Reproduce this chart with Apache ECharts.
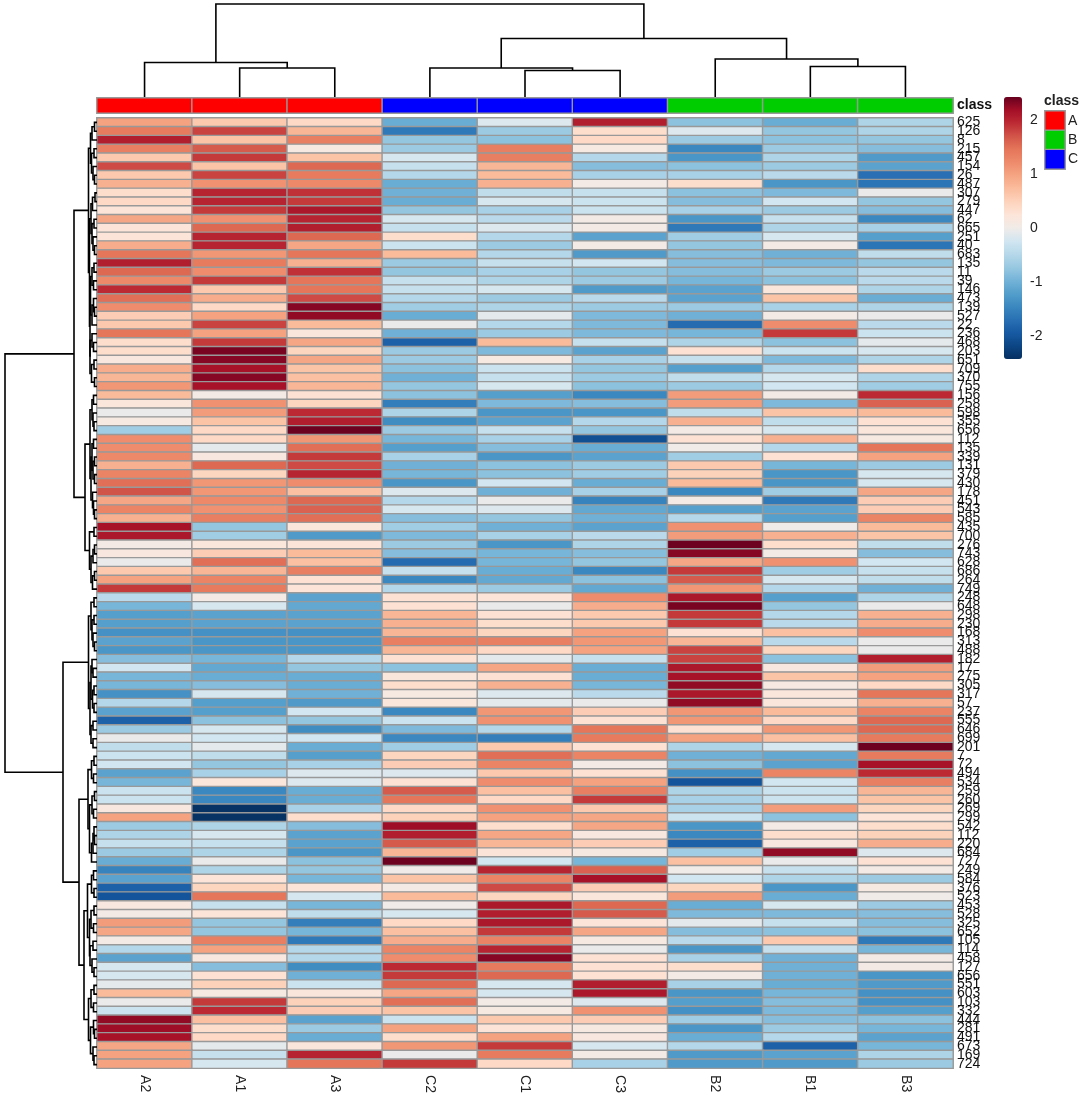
<!DOCTYPE html>
<html lang="en">

<head>
	<meta charset="UTF-8">
	<script src="https://cdn.jsdelivr.net/npm/echarts@6/dist/echarts.min.js"></script>
	<title>Heatmap</title>
	<style>
		html, body { margin: 0; padding: 0; background: #fff; }
	</style>
</head>

<body>
	<div id="main" style="width: 1084px;height:1096px;"></div>

	<script>
		var colLabels = ['A2', 'A1', 'A3', 'C2', 'C1', 'C3', 'B2', 'B1', 'B3'];
		var colClass = [0, 0, 0, 2, 2, 2, 1, 1, 1];
		var classNames = ['A', 'B', 'C'];
		var classColors = ['#ff0000', '#00cd00', '#0000ff'];
		var scaleTicks = [-2, -1, 0, 1, 2];

		var rowLabels = ['625', '126', '8', '215', '457', '154', '26', '487', '307', '279', '447', '62', '665', '251', '40', '683', '135', '11', '39', '146', '473', '139', '527', '22', '236', '468', '203', '651', '709', '370', '755', '156', '258', '598', '355', '656', '112', '135', '339', '131', '379', '430', '178', '451', '543', '585', '435', '700', '276', '743', '628', '686', '264', '749', '248', '648', '298', '230', '168', '313', '488', '182', '17', '275', '305', '317', '57', '237', '555', '646', '699', '201', '7', '72', '494', '534', '259', '260', '269', '299', '542', '112', '220', '684', '727', '249', '584', '376', '523', '453', '528', '325', '652', '105', '114', '458', '127', '656', '551', '603', '103', '332', '444', '281', '491', '673', '169', '724'];

		// one line per row, same column order as colLabels
		var rowValues = [
			[1.0, 0.6, 0.4, -1.05, -0.15, 2.05, -0.8, -1.05, -0.55],
			[1.4, 1.8, 0.8, -1.6, -0.7, 0.35, -0.15, -0.75, -0.55],
			[2.05, 0.65, 1.35, -0.75, -0.8, 0.4, -0.7, -0.8, -0.75],
			[1.35, 1.65, 0.1, -0.7, 1.35, 0.1, -1.45, -0.7, -0.85],
			[0.6, 1.85, 0.65, -0.2, 1.35, -0.5, -1.3, -0.55, -1.25],
			[1.75, 0.65, 1.55, -0.35, 0.8, -0.85, -0.8, -0.7, -1.15],
			[0.6, 1.8, 1.4, -0.5, 0.75, -0.6, -0.6, -0.45, -1.7],
			[0.85, 1.15, 1.25, -1.05, 0.85, 0.05, 0.35, -1.3, -1.65],
			[0.35, 2.0, 1.9, -1.0, -0.4, -0.35, -0.8, -0.9, -0.05],
			[0.4, 2.0, 1.85, -1.05, -0.2, -0.3, -0.85, -0.25, -0.75],
			[0.25, 1.85, 2.1, -0.75, -0.6, -0.3, -0.6, -0.7, -0.85],
			[0.95, 1.15, 2.0, -0.2, -0.45, 0.05, -1.3, -0.35, -1.45],
			[0.25, 1.55, 2.05, -0.35, -0.15, 0.05, -1.6, -0.55, -0.6],
			[0.25, 2.0, 1.55, 0.35, -0.5, -1.15, -0.65, -0.2, -1.2],
			[0.9, 2.0, 0.95, -0.3, -0.7, 0.05, -0.75, 0.05, -1.65],
			[1.45, 1.1, 1.45, 0.75, -0.5, -1.25, -0.85, -1.0, -0.4],
			[2.05, 1.4, 0.85, -0.7, -0.35, -0.25, -0.85, -0.9, -0.75],
			[1.55, 1.2, 1.9, -0.75, -0.6, -0.75, -0.85, -0.7, -0.45],
			[1.25, 1.85, 1.45, -0.35, -0.55, -0.7, -0.95, -0.8, -0.45],
			[1.95, 0.6, 1.45, -0.35, -0.2, -1.25, -1.15, 0.2, -0.55],
			[1.5, 0.9, 1.75, -0.5, -0.7, -0.45, -1.15, 0.65, -1.05],
			[1.2, 0.4, 2.3, -0.65, -0.55, -0.7, -0.7, -0.6, -0.55],
			[0.55, 1.0, 2.25, -1.05, -0.1, -0.9, -1.0, 0.05, -0.05],
			[0.6, 1.8, 0.75, -0.05, -0.5, -0.9, -1.75, 1.2, -0.45],
			[1.45, 1.0, 0.2, -1.0, -0.7, -0.9, -0.95, 1.85, -0.3],
			[0.35, 1.85, 0.95, -1.85, 0.75, -0.35, -0.55, -0.8, -0.1],
			[0.35, 2.35, 0.45, -0.7, -0.9, -1.15, 0.3, -0.3, -0.2],
			[0.15, 2.3, 0.95, -0.7, 0.1, -0.6, -0.35, -0.9, -0.55],
			[0.9, 2.15, 0.65, -0.8, -0.3, -0.75, -1.2, -0.5, 0.35],
			[0.8, 2.3, 0.7, -1.0, -0.35, -0.7, -0.4, -0.2, -0.55],
			[1.1, 2.15, 0.8, -0.75, -0.2, -0.8, -0.7, -0.25, -0.65],
			[0.75, 0.05, 0.3, -0.8, -1.2, -1.45, 1.05, 0.05, 1.95],
			[0.2, 1.15, 0.45, -1.55, -0.9, -0.85, 1.05, -0.9, 1.6],
			[-0.05, 1.05, 1.95, -0.55, -1.3, -1.3, -0.4, 0.65, 0.75],
			[0.1, 0.65, 2.05, -1.4, -1.15, -0.5, 0.85, -0.4, 0.3],
			[-0.65, 0.4, 2.4, -0.7, -0.35, -0.75, 0.05, -0.2, 0.2],
			[1.2, 0.4, 1.1, -0.95, -0.6, -2.05, 0.3, 0.85, 0.1],
			[1.2, -0.1, 1.5, -1.2, -0.85, -1.05, 0.0, -0.5, 1.45],
			[1.25, 0.15, 1.85, -0.6, -1.3, -1.15, -0.65, 0.3, 1.0],
			[0.85, 1.55, 1.75, -1.0, -0.8, -0.7, 0.6, -0.95, -0.7],
			[1.3, 0.45, 2.0, -0.95, -0.8, -0.65, 0.5, -1.3, -0.2],
			[1.5, 1.1, 1.2, -1.3, -0.25, -1.05, 0.75, -1.3, -0.2],
			[1.7, 1.1, 0.7, -0.15, -1.0, -0.6, -1.45, -0.65, 0.95],
			[0.95, 1.25, 1.55, -0.5, -0.05, -1.5, 0.05, -1.6, 0.55],
			[1.3, 1.15, 1.6, -0.2, -0.15, -1.1, -1.2, -1.15, 0.55],
			[0.85, 1.35, 1.5, -0.85, -0.75, -1.0, -0.5, -1.2, 1.3],
			[2.15, -0.75, 0.2, -0.65, -1.0, -1.15, 1.15, 0.0, 0.75],
			[2.1, -0.65, -1.25, -0.9, -0.6, -0.45, 1.05, 0.85, 0.65],
			[0.05, 0.2, 0.25, -0.7, -1.3, -0.55, 2.4, 0.35, -0.4],
			[0.15, 0.55, 0.75, -0.85, -0.95, -0.85, 2.3, 0.05, -0.85],
			[-0.05, 1.5, 0.7, -1.75, -0.95, -0.75, 0.95, 1.15, -0.25],
			[0.6, 0.8, 1.35, -0.35, -1.05, -1.45, 1.85, -0.65, -0.35],
			[1.0, 1.3, 0.3, -1.45, -1.1, -0.8, 1.65, -0.2, -0.4],
			[1.85, 1.4, 0.25, -0.5, -0.7, -1.1, 1.1, -0.5, -1.0],
			[-0.45, 0.05, -1.15, 0.3, 0.25, 1.2, 2.1, -1.2, -0.55],
			[-0.95, -0.2, -1.1, 0.3, -0.05, 0.9, 2.35, -0.75, -0.05],
			[-1.2, -1.15, -1.15, 0.8, 0.3, 0.6, 1.85, -0.5, 0.85],
			[-1.2, -1.15, -1.15, 0.85, 0.35, 0.6, 1.85, -0.45, 0.9],
			[-1.35, -1.35, -1.35, 0.8, 0.45, 1.0, 0.3, 0.7, 1.2],
			[-1.15, -1.3, -1.3, 1.35, 1.35, 1.1, 0.8, -0.45, -0.05],
			[-1.3, -1.3, -1.3, 0.8, 0.4, 1.0, 1.8, 0.45, -0.05],
			[-0.85, -0.95, -0.5, 0.3, -0.1, -0.35, 1.8, -0.8, 2.05],
			[-0.25, -1.1, -0.75, -0.8, 0.95, -1.05, 2.1, 0.15, 1.05],
			[-0.95, -1.05, -1.05, 0.2, 0.3, -1.05, 2.15, 0.65, 1.0],
			[-0.95, -0.85, -1.05, 0.35, 0.85, -0.95, 2.25, 0.1, 0.4],
			[-1.35, -0.2, -1.0, 0.1, -0.15, -0.45, 2.1, 0.2, 1.45],
			[-0.5, -1.2, -1.25, 0.2, -0.1, -0.05, 2.25, 0.2, 0.85],
			[-1.15, -1.2, -0.25, -1.45, 1.1, 0.55, 1.1, 0.75, 1.3],
			[-1.85, -0.8, -0.75, -0.3, 1.15, 0.3, 1.1, 0.4, 1.55],
			[-0.7, -0.2, -1.4, -0.9, -0.5, 1.45, 0.3, 1.1, 1.55],
			[-0.05, -0.25, -0.25, -1.45, -1.55, 1.4, 1.0, 0.7, 1.4],
			[-0.4, -0.1, -1.05, -0.65, 0.6, 0.3, -0.55, -0.2, 2.4],
			[-0.3, -0.4, -1.2, 0.45, 1.5, 1.3, -1.0, -1.1, 1.4],
			[-0.25, -0.75, -0.6, 0.55, 1.3, 0.05, -0.8, -1.15, 2.15],
			[-1.15, -0.6, -0.15, -0.15, 0.6, 0.3, -1.35, 1.3, 1.95],
			[-0.95, 0.2, -0.15, 0.3, 1.2, 1.0, -2.0, -0.25, 1.35],
			[-0.3, -1.45, -1.05, 1.65, 0.7, 1.35, -0.55, -0.3, 0.8],
			[-0.3, -1.45, -1.05, 1.45, 0.4, 1.85, -0.6, -0.3, 0.65],
			[0.15, -2.4, -0.6, 0.4, 1.15, 0.6, -0.6, 1.05, 0.45],
			[1.0, -2.4, 0.35, 0.5, 1.0, 0.95, -0.3, -0.8, 0.25],
			[-0.7, -0.55, -0.85, 2.2, 0.35, 0.95, -1.3, 0.05, 0.35],
			[-0.55, -0.2, -1.15, 2.05, 0.95, 0.15, -1.45, 0.35, 0.5],
			[-0.35, -0.35, -1.15, 1.65, 0.8, 0.55, -1.85, 0.15, 0.9],
			[-0.7, -0.55, -1.3, 0.8, 0.25, 0.1, -0.65, 2.25, -0.15],
			[-1.05, -0.05, -0.8, 2.4, -0.25, -0.95, 0.7, -0.05, 0.3],
			[-1.5, -0.55, -0.75, 0.0, 2.0, 1.6, 0.0, -0.35, 0.05],
			[-1.15, 0.25, -0.95, 0.65, 1.3, 2.15, -0.25, -0.55, -0.7],
			[-1.85, 0.45, 0.25, 0.05, 1.75, 0.55, 0.45, -1.3, 0.1],
			[-2.0, 1.45, -0.2, 0.75, 0.45, 0.2, 1.05, -1.05, 0.0],
			[0.15, -0.35, -0.95, 0.0, 2.1, 1.55, -1.05, -0.2, -0.7],
			[0.05, 0.25, -0.4, -0.2, 2.05, 1.65, -0.9, -0.9, -0.85],
			[1.05, -0.75, -1.55, 0.4, 2.1, 0.25, -0.1, -0.35, -0.85],
			[0.95, -0.75, -0.95, 0.7, 1.85, 0.95, -0.85, -0.8, -0.8],
			[0.05, 1.35, -1.6, 0.9, 1.3, 0.1, -0.45, 0.6, -1.6],
			[-0.5, 1.0, -0.5, 1.3, 2.0, -0.05, -1.3, -0.35, -0.95],
			[-1.15, 0.15, -0.5, 1.2, 2.3, 0.3, -0.6, -1.0, 0.05],
			[-0.2, -0.85, -1.4, 1.95, 1.4, 0.3, 0.35, -1.0, 0.05],
			[-0.2, 0.3, -1.0, 1.85, 1.55, 0.3, 0.05, -1.0, -1.3],
			[-0.1, 0.5, -0.3, 1.55, -0.2, 2.05, -0.6, -1.05, -1.25],
			[0.75, 0.1, 0.2, 0.95, -0.2, 2.1, -1.3, -0.95, -1.35],
			[-0.05, 1.85, 0.5, 1.5, 0.05, -0.15, -1.2, -0.85, -1.35],
			[-0.3, 1.95, 0.55, 0.65, 0.1, 1.15, -1.35, -0.9, -1.2],
			[2.25, 0.7, -1.15, -0.3, 0.6, 0.55, -0.65, -0.85, -0.8],
			[2.2, 0.35, -0.7, 1.0, 0.25, 0.1, -1.3, -0.7, -0.95],
			[2.15, 0.4, -1.05, 0.35, 1.0, 0.15, -1.05, -0.5, -1.15],
			[0.95, -0.1, 0.2, 1.1, 1.85, -0.2, -0.5, -1.85, -0.95],
			[1.0, -0.35, 2.0, -0.05, 1.4, 0.05, -1.25, -1.15, -0.55],
			[1.0, -0.2, 1.45, 1.85, 0.4, -0.6, -1.25, -1.25, -0.7]
		];

		// colours of the scale bar, evenly spaced from its bottom to its top
		var scaleColors = ['#053061', '#0c4584', '#175aa3', '#2870b3', '#3b88c0', '#539ecb', '#74b3d8', '#98c8e1', '#b6d8ea', '#d2e6f1', '#f0ebe8', '#fde5d9', '#fdd3bc', '#fbbd9e', '#f5a583', '#ee8b6c', '#e5765a', '#d25549', '#bd2b34', '#a40f27', '#67001f'];

		// dendrograms: [height, left, right], a 0 is the next leaf in display order
		var rowTreeTop = [8.5,
			[6.5, [5, [2.5, 0, 0], 0], [5.5, [3, 0, 0], [4, 0, [2.5, 0, 0]]]],
			[7.5,
				[6, [4.5, [2, 0, 0], 0], [5, [3, 0, 0], [4, 0, [2.5, 0, 0]]]],
				[7,
					[6.5, [5, [3, 0, 0], [3.5, 0, 0]], [5, [3.5, 0, [2.5, 0, 0]], 0]],
					[7, [5, 0, [3.5, 0, 0]], [5.5, [3, 0, 0], [2.5, 0, 0]]]
				]
			]
		];
		var rowTreeMid = [12,
			[7,
				[5, [3.5, 0, 0], [4, 0, [3, 0, 0]]],
				[6,
					[5, [3.5, 0, 0], [4, [2.5, 0, 0], [2.5, 0, 0]]],
					[4.5, 0, [3.5, 0, [2.5, 0, 0]]]
				]
			],
			[7.5, [3, 0, 0], [6, [4, [2.5, 0, 0], 0], [4.5, [2.5, 0, 0], 0]]]
		];
		var rowTreeLow1 = [8.5,
			[6, [3, 0, 0], [5, [3, 0, 0], [4, 0, [2.5, 0, 0]]]],
			[7,
				[6, [5, 0, [4, 0, 0]], [4.5, [3, 0, 0], [3, 0, 0]]],
				[6, [4, 0, 0], [4, 0, 0]]
			]
		];
		var rowTreeLow2 = [18,
			[9,
				[5.5, [3, 0, 0], [3.5, 0, 0]],
				[7.5, [5, [2.5, 0, 0], [3.5, 0, 0]], [5.5, [4, [3, 0, [2.5, 0, 0]], 0], 0]]
			],
			[13,
				[9.5,
					[5.5, [3.5, 0, 0], [3, 0, 0]],
					[7.5, [6, [3, 0, 0], [3.5, 0, 0]], [7, [4, 0, 0], [5, 0, [3, 0, 0]]]]
				],
				[8.5,
					[6, [3, 0, 0], [3.5, 0, 0]],
					[6.5, [3.5, 0, [2.5, 0, 0]], [4, 0, [3, 0, 0]]]
				]
			]
		];
		var rowTree = [92, [23, rowTreeTop, rowTreeMid], [34, rowTreeLow1, rowTreeLow2]];
		var colTree = [93,
			[34.5, 0, [29, 0, 0]],
			[58.5,
				[29, 0, [26.5, 0, 0]],
				[38, 0, [30.5, 0, 0]]
			]
		];

		var chart = echarts.init(document.getElementById('main'));

		// flatten a tree into [posLeft, posRight, heightLeft, heightRight, height] merges
		function treeMerges(tree) {
			var merges = [];
			var leaf = 0;
			function walk(node) {
				if (node === 0) {
					leaf++;
					return { pos: leaf - 0.5, h: 0 };
				}
				var l = walk(node[1]);
				var r = walk(node[2]);
				merges.push([l.pos, r.pos, l.h, r.h, node[0]]);
				return { pos: (l.pos + r.pos) / 2, h: node[0] };
			}
			walk(tree);
			return merges;
		}

		var heatData = [];
		rowValues.forEach(function (row, r) {
			row.forEach(function (v, c) {
				heatData.push([c, r, v]);
			});
		});

		var fontFamily = 'Liberation Sans';
		var cellBorder = { borderColor: '#999999', borderWidth: 1.4 };
		var heatLeft = 97, heatWidth = 856, heatTop = 118, heatHeight = 951;

		function hiddenValue(gridIndex, max, inverse) {
			return { type: 'value', show: false, gridIndex: gridIndex, min: 0, max: max, inverse: !!inverse };
		}

		function renderLink(horizontal) {
			return function (params, api) {
				var pts = horizontal
					? [[api.value(2), api.value(0)], [api.value(4), api.value(0)], [api.value(4), api.value(1)], [api.value(3), api.value(1)]]
					: [[api.value(0), api.value(2)], [api.value(0), api.value(4)], [api.value(1), api.value(4)], [api.value(1), api.value(3)]];
				return {
					type: 'polyline',
					shape: { points: pts.map(function (p) { return api.coord(p); }) },
					style: { stroke: '#000', lineWidth: 1.6, fill: null }
				};
			};
		}

		var option = {
			animation: false,
			backgroundColor: '#fff',
			textStyle: { fontFamily: fontFamily },
			title: {
				text: 'class', left: 1044, top: 94, padding: 0,
				textStyle: { fontSize: 14, fontWeight: 'bold', color: '#222', fontFamily: fontFamily }
			},
			grid: [
				{ left: heatLeft, top: heatTop, width: heatWidth, height: heatHeight },
				{ left: heatLeft, top: 98, width: heatWidth, height: 15 },
				{ left: 5, top: heatTop, width: 92, height: heatHeight },
				{ left: heatLeft, top: 0, width: heatWidth, height: 97 },
				{ left: 1004, top: 97, width: 18, height: 262 },
				{ left: 1045, top: 111, width: 20, height: 58 }
			],
			xAxis: [
				{
					type: 'category', gridIndex: 0, data: colLabels, position: 'bottom',
					axisLine: { show: false }, axisTick: { show: false }, splitLine: { show: false },
					axisLabel: { rotate: -90, margin: 7, fontSize: 14, color: '#222', interval: 0 }
				},
				{ type: 'category', gridIndex: 1, data: colLabels, show: false },
				hiddenValue(2, 92, true),
				hiddenValue(3, colLabels.length),
				{ type: 'category', gridIndex: 4, show: false },
				{ type: 'category', gridIndex: 5, data: ['class'], show: false }
			],
			yAxis: [
				{
					type: 'category', gridIndex: 0, data: rowLabels, inverse: true, position: 'right',
					axisLine: { show: false }, axisTick: { show: false }, splitLine: { show: false },
					axisLabel: { interval: 0, margin: 4, fontSize: 14, color: '#111' }
				},
				{
					type: 'category', gridIndex: 1, data: ['class'], position: 'right',
					axisLine: { show: false }, axisTick: { show: false },
					axisLabel: { margin: 4, fontSize: 14, fontWeight: 'bold', color: '#111' }
				},
				hiddenValue(2, rowLabels.length, true),
				hiddenValue(3, 97),
				{
					type: 'value', gridIndex: 4, min: -2.42, max: 2.42, position: 'right',
					axisLine: { show: false }, axisTick: { show: false }, splitLine: { show: false },
					axisLabel: { customValues: scaleTicks, margin: 8, fontSize: 14, color: '#222' }
				},
				{
					type: 'category', gridIndex: 5, data: classNames, inverse: true, position: 'right',
					axisLine: { show: false }, axisTick: { show: false },
					axisLabel: { margin: 3, fontSize: 14, color: '#222' }
				}
			],
			visualMap: [
				{
					type: 'continuous', seriesIndex: 0, dimension: 2,
					min: -2.42, max: 2.42, calculable: false, realtime: false,
					left: 1004, top: 97, itemWidth: 18, itemHeight: 262, padding: 0,
					text: null, hoverLink: false,
					inRange: { color: scaleColors }
				},
				{
					type: 'piecewise', show: false, seriesIndex: [1, 2], dimension: 2,
					pieces: classNames.map(function (name, i) {
						return { value: i, color: classColors[i] };
					})
				}
			],
			series: [
				{
					type: 'heatmap', xAxisIndex: 0, yAxisIndex: 0, data: heatData, silent: true,
					itemStyle: cellBorder
				},
				{
					type: 'heatmap', xAxisIndex: 1, yAxisIndex: 1, silent: true,
					data: colClass.map(function (k, c) { return [c, 0, k]; }),
					itemStyle: cellBorder
				},
				{
					type: 'heatmap', xAxisIndex: 5, yAxisIndex: 5, silent: true,
					data: classNames.map(function (name, i) { return [0, i, i]; }),
					itemStyle: cellBorder
				},
				{
					type: 'custom', xAxisIndex: 2, yAxisIndex: 2, silent: true,
					data: treeMerges(rowTree), renderItem: renderLink(true)
				},
				{
					type: 'custom', xAxisIndex: 3, yAxisIndex: 3, silent: true,
					data: treeMerges(colTree), renderItem: renderLink(false)
				}
			]
		};

		chart.setOption(option);
	</script>
</body>

</html>
